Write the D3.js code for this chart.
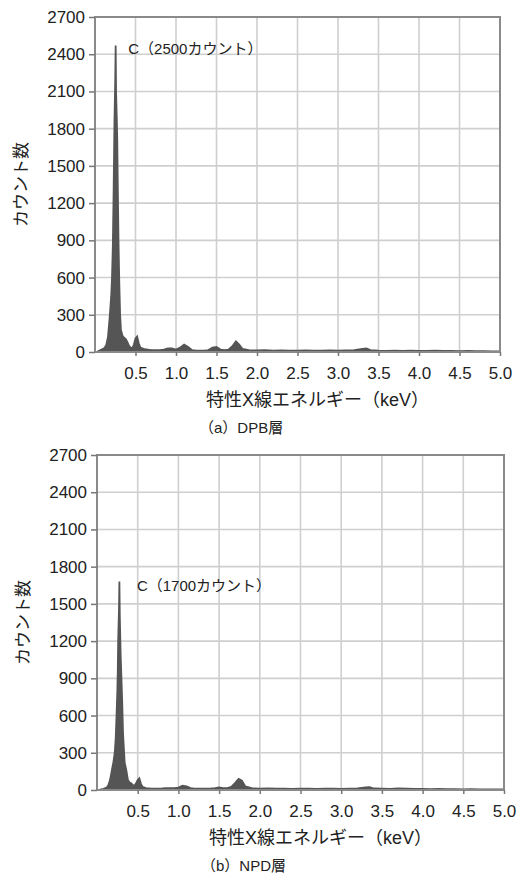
<!DOCTYPE html>
<html>
<head>
<meta charset="utf-8">
<script src="https://cdn.jsdelivr.net/npm/d3@7"></script>
<style>
  html, body { margin: 0; padding: 0; background: #fff; }
  svg { display: block; font-family: "Liberation Sans", "Noto Sans CJK JP", sans-serif; }
  .grid line { stroke: #cfcfcf; stroke-width: 1.6; }
  .frame { fill: none; stroke: #8a8a8a; stroke-width: 2; }
  .axis path { display: none; }
  .axis line { stroke: #777; stroke-width: 1.5; }
  .axis text { fill: #222; font-size: 17px; }
</style>
</head>
<body>
<svg id="chart" width="520" height="875"></svg>
<script>
// ============================================================
// DATI
// ============================================================
const ENERGY = [0.02, 0.05, 0.08, 0.10, 0.12, 0.14, 0.16, 0.18, 0.20, 0.21,
  0.22, 0.23, 0.24, 0.25, 0.255, 0.26, 0.27, 0.275, 0.28, 0.29,
  0.30, 0.31, 0.32, 0.34, 0.36, 0.38, 0.40, 0.42, 0.44, 0.46,
  0.48, 0.50, 0.52, 0.54, 0.56, 0.60, 0.65, 0.70, 0.75, 0.80,
  0.85, 0.90, 0.95, 1.00, 1.05, 1.10, 1.15, 1.20, 1.25, 1.30,
  1.35, 1.40, 1.45, 1.50, 1.55, 1.60, 1.65, 1.70, 1.74, 1.78,
  1.82, 1.90, 2.00, 2.10, 2.20, 2.30, 2.40, 2.50, 2.60, 2.70,
  2.80, 2.90, 3.00, 3.10, 3.20, 3.30, 3.35, 3.40, 3.50, 3.60,
  3.70, 3.80, 3.90, 4.00, 4.10, 4.20, 4.30, 4.40, 4.50, 4.60,
  4.70, 4.80, 4.90, 5.00];

const DPB_COUNTS = [0, 10, 20, 25, 35, 60, 120, 270, 450, 600,
  850, 1300, 1850, 2200, 2470, 2100, 1850, 1700, 1400, 900,
  550, 300, 180, 130, 115, 105, 80, 50, 35, 30,
  60, 110, 125, 70, 35, 25, 20, 15, 15, 15,
  20, 30, 30, 20, 35, 60, 40, 15, 10, 10,
  10, 15, 35, 40, 20, 15, 20, 50, 85, 60,
  25, 15, 12, 15, 10, 12, 10, 10, 12, 10,
  10, 12, 10, 12, 15, 25, 28, 15, 10, 8,
  10, 8, 10, 8, 8, 10, 8, 8, 6, 8,
  6, 6, 5, 5];

const NPD_COUNTS = [0, 5, 10, 15, 20, 40, 80, 150, 220, 260,
  320, 420, 600, 800, 950, 1200, 1450, 1680, 1400, 1100,
  900, 700, 450, 220, 160, 80, 60, 55, 40, 35,
  55, 80, 95, 50, 25, 15, 12, 10, 10, 12,
  15, 15, 15, 20, 35, 30, 15, 10, 10, 10,
  10, 12, 15, 20, 15, 15, 25, 60, 90, 75,
  30, 15, 10, 12, 10, 10, 8, 10, 10, 8,
  10, 10, 8, 10, 12, 20, 22, 12, 10, 8,
  12, 10, 8, 8, 6, 8, 6, 6, 5, 6,
  5, 5, 4, 4];

const X_TICKS = [0.5, 1.0, 1.5, 2.0, 2.5, 3.0, 3.5, 4.0, 4.5, 5.0];
const Y_TICKS = [0, 300, 600, 900, 1200, 1500, 1800, 2100, 2400, 2700];

const X_TITLE = '特性X線エネルギー（keV）';
const Y_TITLE = 'カウント数';

const PANELS = [
  { counts: DPB_COUNTS, peakLabel: 'C（2500カウント）', caption: '（a）DPB層',
    left: 95, top: 17, width: 405, height: 335, labelAt: [0.41, 2400] },
  { counts: NPD_COUNTS, peakLabel: 'C（1700カウント）', caption: '（b）NPD層',
    left: 97, top: 455, width: 407, height: 335, labelAt: [0.49, 1600] }
];

const svg = d3.select('#chart');

// ============================================================
// PANNELLO
// ============================================================
function drawPanel(p) {
  const g = svg.append('g').attr('transform', `translate(${p.left},${p.top})`);

  const x = d3.scaleLinear().domain([0, 5]).range([0, p.width]);
  const y = d3.scaleLinear().domain([0, 2700]).range([p.height, 0]);

  // griglia
  const grid = g.append('g').attr('class', 'grid');
  grid.selectAll('.gx').data(X_TICKS).enter().append('line')
    .attr('x1', d => x(d)).attr('x2', d => x(d))
    .attr('y1', 0).attr('y2', p.height);
  grid.selectAll('.gy').data(Y_TICKS).enter().append('line')
    .attr('x1', 0).attr('x2', p.width)
    .attr('y1', d => y(d)).attr('y2', d => y(d));

  // spettro
  const pts = ENERGY.map((e, i) => [e, p.counts[i]]);
  const area = d3.area()
    .x(d => x(d[0]))
    .y0(y(0))
    .y1(d => y(d[1]));
  const line = d3.line()
    .x(d => x(d[0]))
    .y(d => y(d[1]));
  g.append('path').datum(pts)
    .attr('d', area)
    .attr('fill', '#555');
  g.append('path').datum(pts)
    .attr('d', line)
    .attr('fill', 'none')
    .attr('stroke', '#555')
    .attr('stroke-width', 1.8);

  // cornice
  g.append('rect').attr('class', 'frame')
    .attr('x', 0).attr('y', 0)
    .attr('width', p.width).attr('height', p.height);

  // assi
  g.append('g').attr('class', 'axis')
    .attr('transform', `translate(0,${p.height})`)
    .call(d3.axisBottom(x).tickValues(X_TICKS).tickFormat(d3.format('.1f'))
      .tickSizeInner(4).tickPadding(11));
  g.append('g').attr('class', 'axis')
    .call(d3.axisLeft(y).tickValues(Y_TICKS).tickFormat(d3.format('d'))
      .tickSizeInner(6).tickPadding(4));

  // etichetta picco
  g.append('text')
    .attr('x', x(p.labelAt[0]))
    .attr('y', y(p.labelAt[1]))
    .attr('font-size', 15)
    .attr('fill', '#222')
    .text(p.peakLabel);

  // titoli
  g.append('text')
    .attr('x', p.width / 2 + 20)
    .attr('y', p.height + 54)
    .attr('text-anchor', 'middle')
    .attr('font-size', 18)
    .attr('fill', '#222')
    .text(X_TITLE);

  g.append('text')
    .attr('transform', `translate(${-68},${p.height / 2}) rotate(-90)`)
    .attr('text-anchor', 'middle')
    .attr('font-size', 17)
    .attr('fill', '#222')
    .text(Y_TITLE);

  g.append('text')
    .attr('x', 104)
    .attr('y', p.height + 81)
    .attr('font-size', 15)
    .attr('fill', '#222')
    .text(p.caption);
}

PANELS.forEach(drawPanel);
</script>
</body>
</html>
